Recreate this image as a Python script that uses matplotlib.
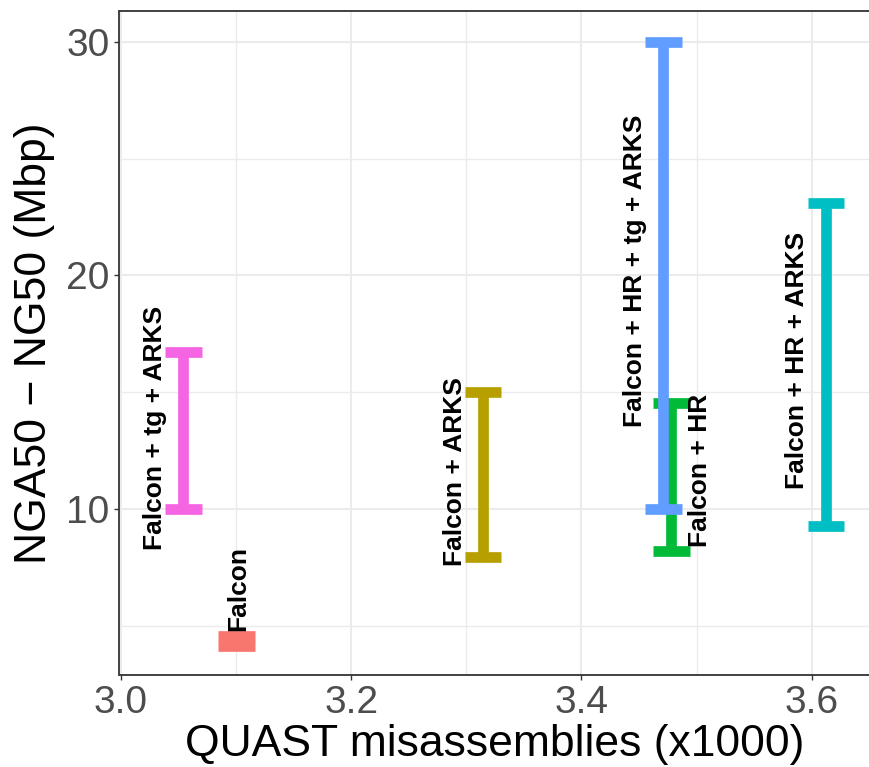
import matplotlib
matplotlib.use("Agg")
import matplotlib.pyplot as plt
from matplotlib.ticker import MultipleLocator

plt.rcParams['font.family'] = ['Liberation Sans', 'DejaVu Sans']

# ---- data ----
assemblies = ["Falcon", "Falcon + ARKS", "Falcon + HR", "Falcon + HR + ARKS",
              "Falcon + HR + tg + ARKS", "Falcon + tg + ARKS"]
misassemblies_k = [3.100, 3.3145, 3.478, 3.6125, 3.471, 3.054]
nga50_mbp = [4.15, 7.95, 8.2, 9.29, 10.0, 10.0]
ng50_mbp = [4.57, 15.02, 14.54, 23.09, 30.0, 16.73]
x_ticks = [3.0, 3.2, 3.4, 3.6]
y_ticks = [10, 20, 30]

# ---- styles ----
colors = ["#F8766D", "#B79F00", "#00BA38", "#00BFC4", "#619CFF", "#F564E3"]
label_dx_pt = [1.5, -20.5, 21, -21, -20, -20]
label_dy_pt = [38, 2, 4.5, 3, 3.5, 2]
cap_w = 0.032
lw = 7.7

fig = plt.figure(figsize=(8.70, 7.67), dpi=100)
ax = fig.add_axes([119.5 / 870, (767 - 675) / 767, (870 - 119.5) / 870, (675 - 10.5) / 767])

ax.set_xlim(2.9987, 3.6507)
ax.set_ylim(2.897, 31.335)

for x, lo, hi, c in zip(misassemblies_k, nga50_mbp, ng50_mbp, colors):
    ax.vlines(x, lo, hi, colors=c, linewidth=lw, capstyle='butt', zorder=3)
    ax.hlines([lo, hi], x - cap_w / 2, x + cap_w / 2, colors=c, linewidth=lw,
              capstyle='butt', zorder=3)

for name, x, lo, hi, dx, dy in zip(assemblies, misassemblies_k, nga50_mbp, ng50_mbp,
                                   label_dx_pt, label_dy_pt):
    ax.annotate(name, (x, (lo + hi) / 2), xytext=(dx, dy), textcoords='offset points',
                rotation=90, ha='center', va='center', fontsize=19, fontweight='bold',
                color='black', zorder=5)

ax.set_xticks(x_ticks)
ax.set_xticklabels([f"{v:.1f}" for v in x_ticks])
ax.set_yticks(y_ticks)
ax.set_yticklabels([str(v) for v in y_ticks])
ax.xaxis.set_minor_locator(MultipleLocator(0.1))
ax.yaxis.set_minor_locator(MultipleLocator(5))

ax.grid(True, which='major', color='#EBEBEB', linewidth=1.5, zorder=0)
ax.grid(True, which='minor', color='#EBEBEB', linewidth=1.0, zorder=0)
ax.set_axisbelow(True)

ax.tick_params(axis='both', which='major', labelsize=28, labelcolor='#4D4D4D',
               color='#333333', length=3.6, width=1.0, pad=3.5)
ax.tick_params(axis='both', which='minor', length=0)

for side in ['left', 'bottom', 'top']:
    ax.spines[side].set_color('#333333')
    ax.spines[side].set_linewidth(1.3)
ax.spines['right'].set_visible(False)

ax.set_xlabel("QUAST misassemblies (x1000)", fontsize=32, color='black', labelpad=2)
ax.set_ylabel("NGA50 \u2212 NG50 (Mbp)", fontsize=32, color='black', labelpad=8)

fig.savefig("out.png", dpi=100)
